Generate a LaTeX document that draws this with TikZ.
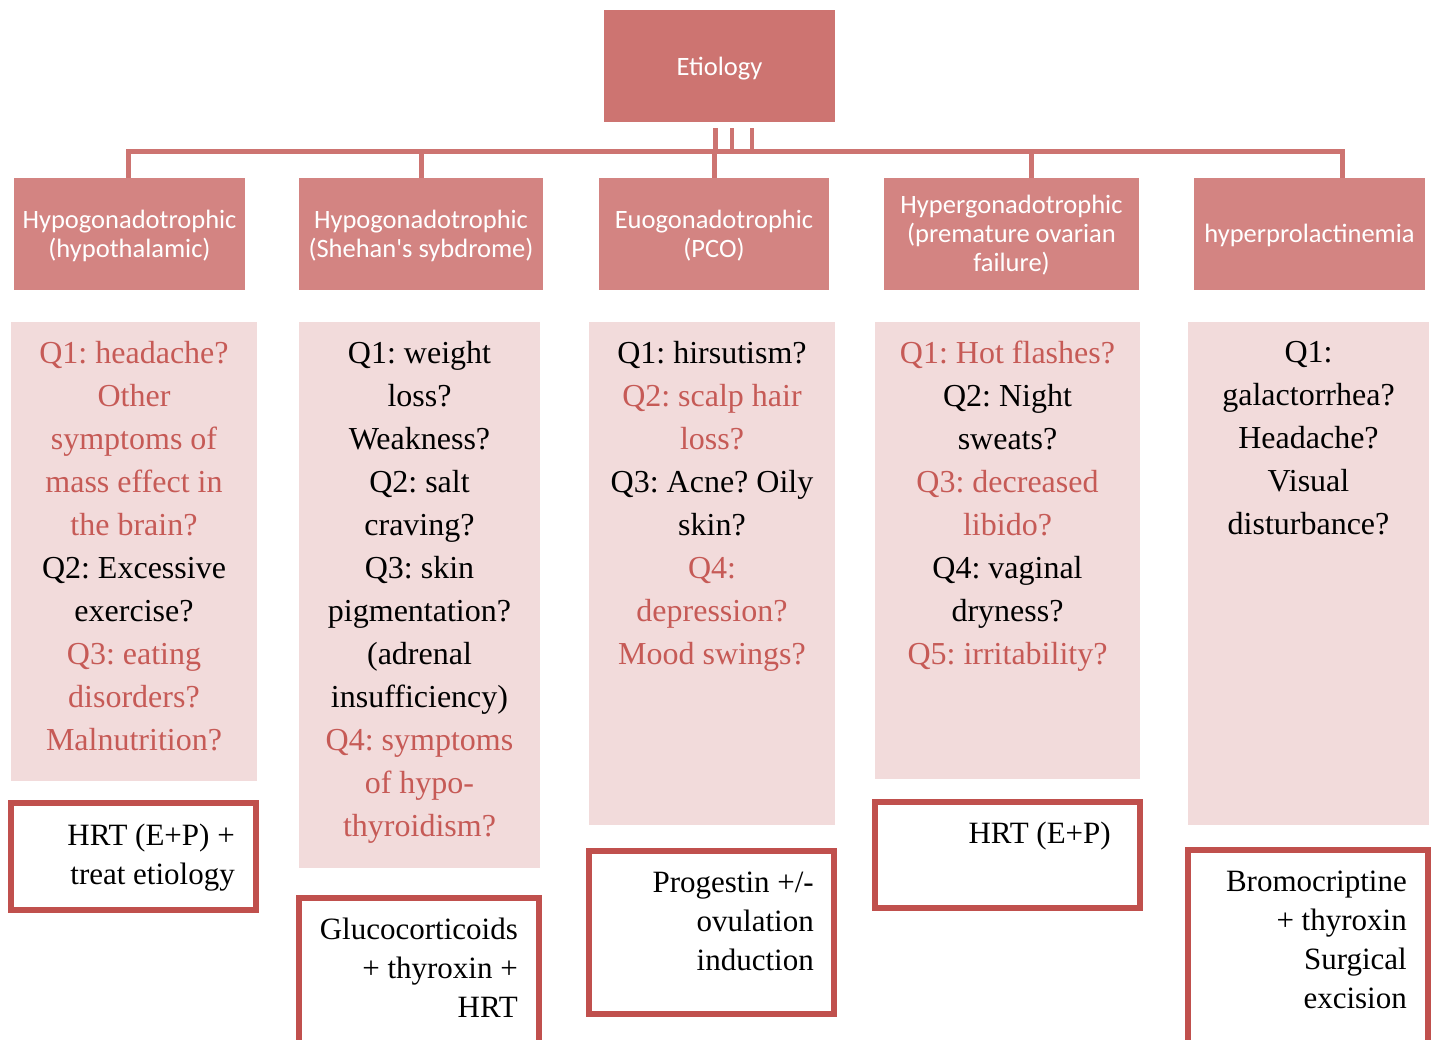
\documentclass[tikz,border=0pt]{standalone}
\usepackage{fontspec}
\setmainfont{Liberation Serif}
\newfontfamily\headfont{Carlito}
\usetikzlibrary{calc}
\frenchspacing

\definecolor{etioFill}{HTML}{CD7471}
\definecolor{headFill}{HTML}{D38482}
\definecolor{qFill}{HTML}{F2DBDB}
\definecolor{accent}{HTML}{C0504D}
\definecolor{redText}{HTML}{C65A56}

\begin{document}
\begin{tikzpicture}[x=1pt,y=-1pt,
  etio/.style={fill=etioFill, inner sep=0, text=white,
    font=\headfont\fontsize{26.5}{29}\selectfont},
  head/.style={fill=headFill, inner sep=0, text=white, align=center,
    minimum height=112, font=\headfont\fontsize{26.5}{29}\selectfont},
  label/.style={inner sep=0, text=white, align=center,
    font=\headfont\fontsize{26.5}{29}\selectfont},
  qbox/.style={fill=qFill, inner sep=0},
  qtext/.style={anchor=north, inner sep=0, align=center,
    font=\frenchspacing\fontsize{32}{43}\selectfont},
  tbox/.style={draw=accent, line width=6pt, inner sep=0, fill=white},
  ttext/.style={anchor=north east, inner sep=0, align=right,
    font=\frenchspacing\fontsize{31}{39}\selectfont},
  conn/.style={draw=etioFill, line width=5pt},
  thin conn/.style={draw=etioFill, line width=4pt}
]
\useasboundingbox (0,0) rectangle (1435,1040);
\clip (0,0) rectangle (1435,1040);

% root
\node[etio, minimum width=231, minimum height=112] (E) at (719.5,66) {};
\node[label] (Elab) at ($(E.center)+(0,2.5)$) {Etiology};

% category headers
\node[head, minimum width=231] (H1) at (129.5,234) {};
\node[head, minimum width=244] (H2) at (421,234) {};
\node[head, minimum width=230] (H3) at (714,234) {};
\node[head, minimum width=255] (H4) at (1011.5,234) {};
\node[head, minimum width=231] (H5) at (1309.5,234) {};
\node[label] (H1lab) at ($(H1.center)+(0,2)$) {Hypogonadotrophic\\(hypothalamic)};
\node[label] (H2lab) at ($(H2.center)+(0,2)$) {Hypogonadotrophic\\(Shehan's sybdrome)};
\node[label] (H3lab) at ($(H3.center)+(0,2)$) {Euogonadotrophic\\(PCO)};
\node[label] (H4lab) at ($(H4.center)+(0,1.5)$) {Hypergonadotrophic\\(premature ovarian\\failure)};
\node[label] (H5lab) at ($(H5.center)+(0,1.5)$) {hyperprolactinemia};

% tree connectors
\coordinate (bar) at (0,152);
\coordinate (d1) at ($(H1.north)+(-1.5,0)$);
\coordinate (d4) at ($(H4.north)+(19.5,0)$);
\coordinate (d5) at ($(H5.north)+(32.5,0)$);
\draw[conn] (d1) -- (d1 |- bar) -| (d5);
\draw[conn] (H2.north) -- (H2.north |- bar);
\draw[conn] (H3.north) -- (H3.north |- bar);
\draw[conn] (d4) -- (d4 |- bar);
\draw[conn] ($(E.south)+(-4.5,6)$) -- ($(E.south |- bar)+(-4.5,0)$);
\draw[thin conn] ($(E.south)+(12.5,6)$) -- ($(E.south |- bar)+(12.5,0)$);
\draw[thin conn] ($(E.south)+(32.5,6)$) -- ($(E.south |- bar)+(32.5,0)$);

% question panels
\node[qbox, minimum width=246, minimum height=459] (Q1) at (134,551.5) {};
\node[qbox, minimum width=241, minimum height=546] (Q2) at (419.5,595) {};
\node[qbox, minimum width=246, minimum height=503] (Q3) at (712,573.5) {};
\node[qbox, minimum width=265, minimum height=457] (Q4) at (1007.5,550.5) {};
\node[qbox, minimum width=241, minimum height=503] (Q5) at (1308.5,573.5) {};

\node[qtext] (QT1) at ($(Q1.north)+(0,19)$) {%
  \textcolor{redText}{Q1: headache?}\\
  \textcolor{redText}{Other}\\
  \textcolor{redText}{symptoms of}\\
  \textcolor{redText}{mass effect in}\\
  \textcolor{redText}{the brain?}\\
  Q2: Excessive\\
  exercise?\\
  \textcolor{redText}{Q3: eating}\\
  \textcolor{redText}{disorders?}\\
  \textcolor{redText}{Malnutrition?}};

\node[qtext] (QT2) at ($(Q2.north)+(0,19)$) {%
  Q1: weight\\
  loss?\\
  Weakness?\\
  Q2: salt\\
  craving?\\
  Q3: skin\\
  pigmentation?\\
  (adrenal\\
  insufficiency)\\
  \textcolor{redText}{Q4: symptoms}\\
  \textcolor{redText}{of hypo-}\\
  \textcolor{redText}{thyroidism?}};

\node[qtext] (QT3) at ($(Q3.north)+(0,19)$) {%
  Q1: hirsutism?\\
  \textcolor{redText}{Q2: scalp hair}\\
  \textcolor{redText}{loss?}\\
  Q3: Acne? Oily\\
  skin?\\
  \textcolor{redText}{Q4:}\\
  \textcolor{redText}{depression?}\\
  \textcolor{redText}{Mood swings?}};

\node[qtext] (QT4) at ($(Q4.north)+(0,19)$) {%
  \textcolor{redText}{Q1: Hot flashes?}\\
  Q2: Night\\
  sweats?\\
  \textcolor{redText}{Q3: decreased}\\
  \textcolor{redText}{libido?}\\
  Q4: vaginal\\
  dryness?\\
  \textcolor{redText}{Q5: irritability?}};

\node[qtext] (QT5) at ($(Q5.north)+(0,19)$) {%
  Q1:\\
  galactorrhea?\\
  Headache?\\
  Visual\\
  disturbance?};

% treatment boxes
\node[tbox, minimum width=245, minimum height=107] (T1) at (133.5,856.5) {};
\node[tbox, minimum width=240, minimum height=150] (T2) at (419,973) {};
\node[tbox, minimum width=245, minimum height=163] (T3) at (711.5,932.5) {};
\node[tbox, minimum width=265, minimum height=106] (T4) at (1007.5,855) {};
\node[tbox, minimum width=240, minimum height=195] (T5) at (1308,947.5) {};

\node[ttext] (TT1) at ($(T1.north east)+(-24,24)$) {HRT (E+P) +\\treat etiology};
\node[ttext] (TT2) at ($(T2.north east)+(-24,23)$) {Glucocorticoids\\+ thyroxin +\\HRT};
\node[ttext] (TT3) at ($(T3.north east)+(-23,24)$) {Progestin +/-\\ovulation\\induction};
\node[ttext] (TT4) at ($(T4.north east)+(-32,23)$) {HRT (E+P)};
\node[ttext] (TT5) at ($(T5.north east)+(-24,24)$) {Bromocriptine\\+ thyroxin\\Surgical\\excision};
\end{tikzpicture}
\end{document}
